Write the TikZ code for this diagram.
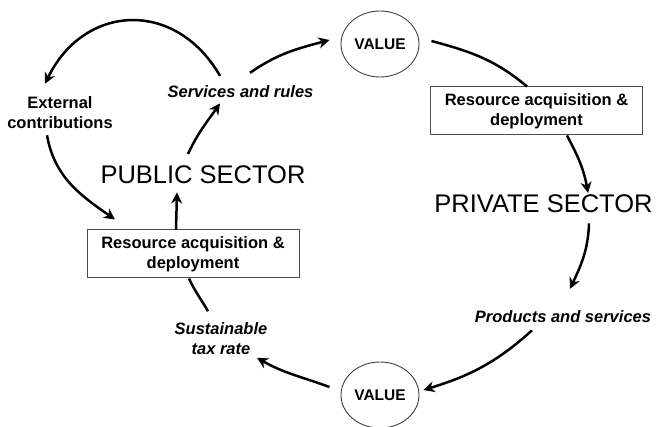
\documentclass[tikz,border=0pt]{standalone}
\usepackage{fontspec}
\setmainfont{Liberation Sans}
\usetikzlibrary{positioning,arrows.meta,shapes.geometric}

\begin{document}
\begin{tikzpicture}[x=1pt,y=1pt,
  flow/.style={line width=2.5pt,-{Stealth[length=11pt,width=11pt,inset=3.5pt]}},
  link/.style={line width=2.5pt},
  lbl/.style={inner sep=0pt,font=\fontsize{16.5}{20}\selectfont\bfseries},
  ilbl/.style={lbl,font=\fontsize{16.5}{20}\selectfont\bfseries\itshape},
  sector/.style={inner sep=0pt,font=\fontsize{25.5}{30}\selectfont},
  valnode/.style={ellipse,draw=black!75,line width=0.9pt,minimum width=78pt,minimum height=66pt,inner sep=0pt,font=\fontsize{15.5}{18}\selectfont\bfseries},
  resbox/.style={rectangle,draw=black!70,line width=1pt,minimum width=212pt,minimum height=48pt,inner sep=0pt,align=center,font=\fontsize{16.5}{20}\selectfont\bfseries}]
\useasboundingbox (0,0) rectangle (656,426);

\def\xl{193}
\def\xr{536.5}
\def\xv{380}

\node[valnode] (val1) at (\xv,382) {VALUE};
\node[valnode] (val2) at (\xv,31) {VALUE};
\node[resbox] (boxR) at (\xr,315) {Resource acquisition \&\\deployment};
\node[resbox] (boxL) at (\xl,172) {Resource acquisition \&\\deployment};
\node[sector,anchor=base] (pub) at (203,242) {PUBLIC SECTOR};
\node[sector,anchor=base] (priv) at (543.5,213) {PRIVATE SECTOR};
\node[ilbl,anchor=base] (svc) at (240.5,328) {Services and rules};
\node[ilbl,anchor=base] (prod) at (563,103) {Products and services};
\node[lbl,align=center] (ext) at (60,313) {External\\contributions};
\node[ilbl,align=center] (sus) at (221,87.5) {Sustainable\\tax rate};

\draw[flow] ([shift={(-17,0)}]boxL.north) -- ([shift={(-26,-8)}]pub.south);
\draw[flow] ([shift={(-15,12)}]pub.north) to [out=65, in=-125] ([shift={(-20.5,-5)}]svc.south);
\draw[flow] ([shift={(-20.5,10)}]svc.north) to [out=120, in=64, looseness=1.3] ([shift={(-15,13)}]ext.north);
\draw[flow] ([shift={(-13,-6)}]ext.south) to [out=-80, in=145] ([shift={(-78,10)}]boxL.north);
\draw[flow] ([shift={(9.5,13)}]svc.north) to [out=35, in=195] ([shift={(-11,4)}]val1.west);

\draw[link] ([shift={(12,3)}]val1.east) to [out=-15, in=140] ([shift={(-9.5,0)}]boxR.north);
\draw[flow] ([shift={(30.5,0)}]boxR.south) to [out=-62, in=100] ([shift={(44.5,2)}]priv.north);
\draw[flow] ([shift={(45.5,-10)}]priv.south) to [out=-92, in=65] ([shift={(7,22)}]prod.north);
\draw[flow] ([shift={(-31,-7)}]prod.south) to [out=-138, in=17] ([shift={(4,5)}]val2.east);

\draw[flow] ([shift={(-11,8)}]val2.west) to [out=160, in=-30] ([shift={(36,-3)}]sus.south);
\draw[link] ([shift={(-13,11)}]sus.north) to [out=120, in=-65] ([shift={(-4,0)}]boxL.south);

\end{tikzpicture}
\end{document}
